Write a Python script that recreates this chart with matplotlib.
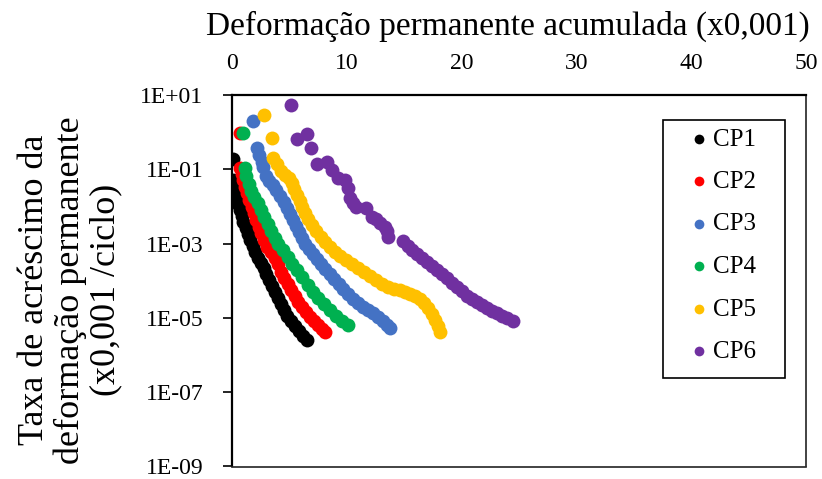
import matplotlib
matplotlib.use('Agg')
import matplotlib.pyplot as plt
from matplotlib.patches import Rectangle
from matplotlib.ticker import FixedLocator, FixedFormatter

plt.rcParams['font.family'] = ['Liberation Serif', 'DejaVu Serif']

labels = ['CP1', 'CP2', 'CP3', 'CP4', 'CP5', 'CP6']
colors = ['#000000', '#FF0000', '#4472C4', '#00B050', '#FFC000', '#7030A0']

cp1_x = [0.11, 0.09, 0.17, 0.26, 0.39, 0.52, 0.70, 0.84, 1.00, 1.18, 1.39, 1.57,
         1.79, 2.00, 2.26, 2.53, 2.79, 3.00, 3.22, 3.48, 3.75, 4.00, 4.27, 4.53,
         4.79, 5.14, 5.49, 5.84, 6.18, 6.49]
cp1_y = [0.187, 0.0519, 0.0358, 0.0247, 0.0170, 0.0117, 0.0081, 0.0056, 0.00385,
         0.00266, 0.00183, 0.00126, 8.7e-4, 6.0e-4, 4.15e-4, 3.05e-4, 2.23e-4,
         1.54e-4, 1.06e-4, 7.3e-5, 5.06e-5, 3.49e-5, 2.41e-5, 1.66e-5, 1.15e-5,
         8.4e-6, 6.2e-6, 4.5e-6, 3.3e-6, 2.6e-6]

cp2_x = [0.70, 0.70, 0.83, 0.96, 1.13, 1.31, 1.52, 1.72, 1.92, 2.09, 2.31, 2.53,
         2.79, 3.05, 3.40, 3.75, 4.00, 4.27, 4.57, 4.88, 5.18, 5.49, 5.79, 6.10,
         6.45, 6.79, 7.14, 7.49, 7.84, 8.10]
cp2_y = [0.93, 0.109, 0.0752, 0.0519, 0.0336, 0.0232, 0.0150, 0.00975, 0.00673,
         0.00436, 0.00283, 0.00195, 0.00126, 8.2e-4, 6.0e-4, 4.15e-4, 2.86e-4,
         1.75e-4, 1.2e-4, 8.3e-5, 5.7e-5, 3.95e-5, 2.72e-5, 2.0e-5, 1.47e-5,
         1.08e-5, 8.4e-6, 6.6e-6, 5.1e-6, 4.3e-6]

cp3_x = [1.86, 2.15, 2.35, 2.59, 2.73, 2.96, 3.22, 3.53, 3.83, 4.18, 4.49, 4.75,
         5.01, 5.31, 5.57, 5.84, 6.10, 6.40, 6.71, 7.06, 7.40, 7.75, 8.14, 8.54,
         8.89, 9.28, 9.67, 10.10, 10.54, 10.98, 11.41, 11.85, 12.28, 12.72, 13.15,
         13.50, 13.76]
cp3_y = [2.04, 0.37, 0.244, 0.161, 0.118, 0.0665, 0.0488, 0.0381, 0.0279, 0.0193,
         0.0133, 0.00917, 0.00632, 0.00436, 0.00301, 0.00207, 0.00143, 9.9e-4,
         7.2e-4, 5.3e-4, 3.9e-4, 2.86e-4, 2.1e-4, 1.54e-4, 1.13e-4, 8.3e-5,
         6.1e-5, 4.5e-5, 3.3e-5, 2.56e-5, 2.0e-5, 1.66e-5, 1.38e-5, 1.08e-5,
         8.4e-6, 6.6e-6, 5.5e-6]

cp4_x = [0.96, 1.13, 1.26, 1.44, 1.66, 1.92, 2.26, 2.53, 2.83, 3.14, 3.44, 3.75,
         4.05, 4.44, 4.88, 5.27, 5.66, 6.10, 6.58, 7.06, 7.49, 8.01, 8.54, 9.06,
         9.58, 10.10]
cp4_y = [0.97, 0.109, 0.0665, 0.0406, 0.0263, 0.0181, 0.0125, 0.0081, 0.00525,
         0.0034, 0.00221, 0.00143, 9.9e-4, 6.8e-4, 4.4e-4, 2.86e-4, 1.98e-4,
         1.28e-4, 7.8e-5, 5.06e-5, 3.49e-5, 2.41e-5, 1.66e-5, 1.15e-5, 8.4e-6,
         6.6e-6]

cp5_x = [2.79, 3.46, 3.60, 3.89, 4.27, 4.62, 4.97, 5.23, 5.44, 5.66, 5.88, 6.10,
         6.36, 6.62, 6.97, 7.32, 7.71, 8.10, 8.54, 8.97, 9.41, 9.93, 10.45, 10.98,
         11.50, 12.02, 12.54, 13.07, 13.59, 14.11, 14.63, 15.07, 15.51, 15.94,
         16.38, 16.72, 17.07, 17.42, 17.68, 17.94, 18.16]
cp5_y = [2.9, 0.685, 0.199, 0.14, 0.0906, 0.0707, 0.0587, 0.0431, 0.0297, 0.0205,
         0.0142, 0.00975, 0.00673, 0.00464, 0.0032, 0.00221, 0.00152, 0.00112,
         8.2e-4, 6.0e-4, 4.7e-4, 3.67e-4, 2.86e-4, 2.23e-4, 1.75e-4, 1.36e-4,
         1.06e-4, 8.3e-5, 6.9e-5, 6.1e-5, 5.7e-5, 5.06e-5, 4.5e-5, 3.95e-5,
         3.3e-5, 2.56e-5, 1.88e-5, 1.3e-5, 8.9e-6, 6.2e-6, 4.3e-6]

cp6_x = [5.11, 5.64, 6.56, 6.86, 7.43, 8.25, 8.68, 9.26, 9.84, 10.13, 10.28, 10.54,
         10.80, 11.67, 12.17, 12.54, 12.89, 13.33, 13.50, 13.62, 14.92, 15.33,
         15.68, 16.11, 16.55, 16.99, 17.42, 17.86, 18.29, 18.73, 19.16, 19.60,
         20.03, 20.47, 20.91, 21.34, 21.78, 22.21, 22.65, 23.08, 23.52, 23.95,
         24.48]
cp6_y = [5.4, 0.64, 0.88, 0.37, 0.14, 0.161, 0.096, 0.058, 0.052, 0.031, 0.0167,
         0.0125, 0.00975, 0.009, 0.00535, 0.00464, 0.00356, 0.00288, 0.00221,
         0.00155, 0.00114, 8.7e-4, 6.8e-4, 5.3e-4, 4.15e-4, 3.24e-4, 2.53e-4,
         1.98e-4, 1.54e-4, 1.2e-4, 8.8e-5, 6.9e-5, 5.4e-5, 3.95e-5, 3.3e-5,
         2.72e-5, 2.2e-5, 1.82e-5, 1.56e-5, 1.38e-5, 1.15e-5, 9.8e-6, 8.1e-6]

series_x = [cp1_x, cp2_x, cp3_x, cp4_x, cp5_x, cp6_x]
series_y = [cp1_y, cp2_y, cp3_y, cp4_y, cp5_y, cp6_y]

x_ticks = [0, 10, 20, 30, 40, 50]
y_ticks = [1e-9, 1e-7, 1e-5, 1e-3, 1e-1, 1e1]
y_tick_labels = ['1E-09', '1E-07', '1E-05', '1E-03', '1E-01', '1E+01']

W, H = 822, 479
fig = plt.figure(figsize=(W/100, H/100), dpi=100)
ax = fig.add_axes([232/W, 1 - 466.5/H, (806 - 232)/W, (466.5 - 95)/H])

for xs, ys, c, lab in zip(series_x, series_y, colors, labels):
    ax.scatter(xs, ys, s=100, color=c, linewidths=0, label=lab, zorder=3)

ax.set_yscale('log')
ax.set_ylim(1e-9, 1e1)
ax.set_xlim(0, 50)

ax.xaxis.tick_top()
ax.xaxis.set_label_position('top')
ax.set_xticks(x_ticks)
ax.tick_params(axis='x', length=0, pad=15, labelsize=17)
ax.set_xlabel('Deformação permanente acumulada (x0,001)', fontsize=24, labelpad=13)
ax.xaxis.label.set_x((508 - 232)/574)

ax.yaxis.set_major_locator(FixedLocator(y_ticks))
ax.yaxis.set_major_formatter(FixedFormatter(y_tick_labels))
ax.yaxis.set_minor_locator(FixedLocator([]))
ax.tick_params(axis='y', which='major', direction='out', length=6.5, width=1.2,
               pad=14, labelsize=17)
ax.set_ylabel('Taxa de acréscimo da\ndeformação permanente\n(x0,001 /ciclo)',
              fontsize=26, linespacing=1.08)
ax.yaxis.set_label_coords((122 - 232)/574, (466.5 - 290)/371.5)

for side in ['left', 'top']:
    ax.spines[side].set_linewidth(1.6)
for side in ['right', 'bottom']:
    ax.spines[side].set_linewidth(1.2)
    ax.spines[side].set_color('#222222')

# legend box drawn separately so its padding matches the reference
fig.patches.append(Rectangle((663/W, 1 - 378/H), 122/W, 258/H,
                             transform=fig.transFigure, fill=False,
                             edgecolor='black', linewidth=1.2))
leg = ax.legend(loc='upper left', bbox_to_anchor=(689/W, 1 - 128/H),
                bbox_transform=fig.transFigure, fontsize=18, frameon=False,
                markerscale=0.7, handletextpad=0.15, handlelength=0.8,
                labelspacing=0.8, borderpad=0, borderaxespad=0)

fig.savefig('out.png', dpi=100)
